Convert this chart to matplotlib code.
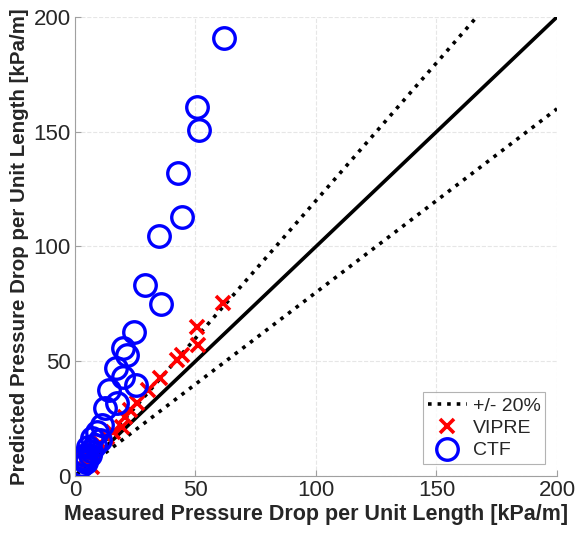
import numpy as np
import matplotlib.pyplot as plt

plt.rcParams['font.family'] = ['Liberation Sans', 'DejaVu Sans']

# measured vs predicted pressure drop per unit length [kPa/m]
ctf_meas = [61.8, 50.6, 51.5, 42.7, 44.4, 34.9, 29.0, 35.7, 24.5, 19.9, 21.6, 17.0,
            19.9, 25.3, 14.1, 17.4, 12.4, 11.2, 9.1, 7.1, 5.4, 4.1, 3.3, 6.2, 8.3,
            10.4, 2.9, 4.5, 6.8, 3.8]
ctf_pred = [190.8, 160.8, 150.8, 132.0, 112.9, 104.6, 83.2, 74.9, 62.7, 55.8, 52.7, 47.1,
            43.1, 39.6, 37.5, 31.8, 29.6, 22.2, 19.2, 16.6, 12.6, 9.2, 7.0, 9.2, 13.5,
            15.7, 4.8, 6.0, 11.0, 8.0]

vipre_meas = [61.4, 50.6, 51.0, 44.4, 42.3, 35.3, 30.3, 25.7, 22.8, 20.7, 19.5, 15.8,
              13.3, 10.4, 7.5, 5.4, 3.3, 7.1, 4.5]
vipre_pred = [75.4, 64.9, 57.1, 52.7, 50.5, 42.7, 37.5, 31.8, 28.8, 25.7, 21.4, 19.2,
              17.0, 14.4, 11.3, 9.2, 7.0, 3.9, 5.5]

ref = np.array([0, 200])
text_c = '#262626'

fig = plt.figure(figsize=(5.79, 5.43), dpi=100)
ax = fig.add_axes([0.1295, 0.1234, 0.8325, 0.8453])

ax.plot(ref, 1.2 * ref, ':', color='black', lw=2.6, label='+/- 20%')
ax.plot(ref, 0.8 * ref, ':', color='black', lw=2.6)
ax.plot(ref, ref, '-', color='black', lw=2.6)
ax.plot(vipre_meas, vipre_pred, 'x', color='red', ms=10, mew=2.6, label='VIPRE')
ax.plot(ctf_meas, ctf_pred, 'o', mfc='none', mec='blue', ms=15.5, mew=2.4, label='CTF')

ax.set_xlim(0, 200)
ax.set_ylim(0, 200)
ax.set_xticks([0, 50, 100, 150, 200])
ax.set_yticks([0, 50, 100, 150, 200])
ax.grid(True, ls='--', color='#e6e6e6', lw=0.8)
ax.set_axisbelow(True)
for s in ['top', 'right']:
    ax.spines[s].set_visible(False)
for s in ['left', 'bottom']:
    ax.spines[s].set_color('#a0a0a0')
ax.tick_params(direction='in', length=4, colors='#a0a0a0', labelcolor=text_c,
               labelsize=16, pad=3)

ax.set_xlabel('Measured Pressure Drop per Unit Length [kPa/m]', fontsize=15.5,
              fontweight='bold', color=text_c, labelpad=2)
ax.set_ylabel('Predicted Pressure Drop per Unit Length [kPa/m]', fontsize=14.8,
              fontweight='bold', color=text_c, labelpad=3)

leg = ax.legend(loc='lower right', fontsize=14, fancybox=False, edgecolor='#a0a0a0',
                handlelength=2.0, handletextpad=0.3, borderpad=0.25, labelspacing=0.25,
                borderaxespad=0.6)
leg.get_frame().set_linewidth(0.8)
for t in leg.get_texts():
    t.set_color(text_c)

fig.savefig('out.png', dpi=100)
